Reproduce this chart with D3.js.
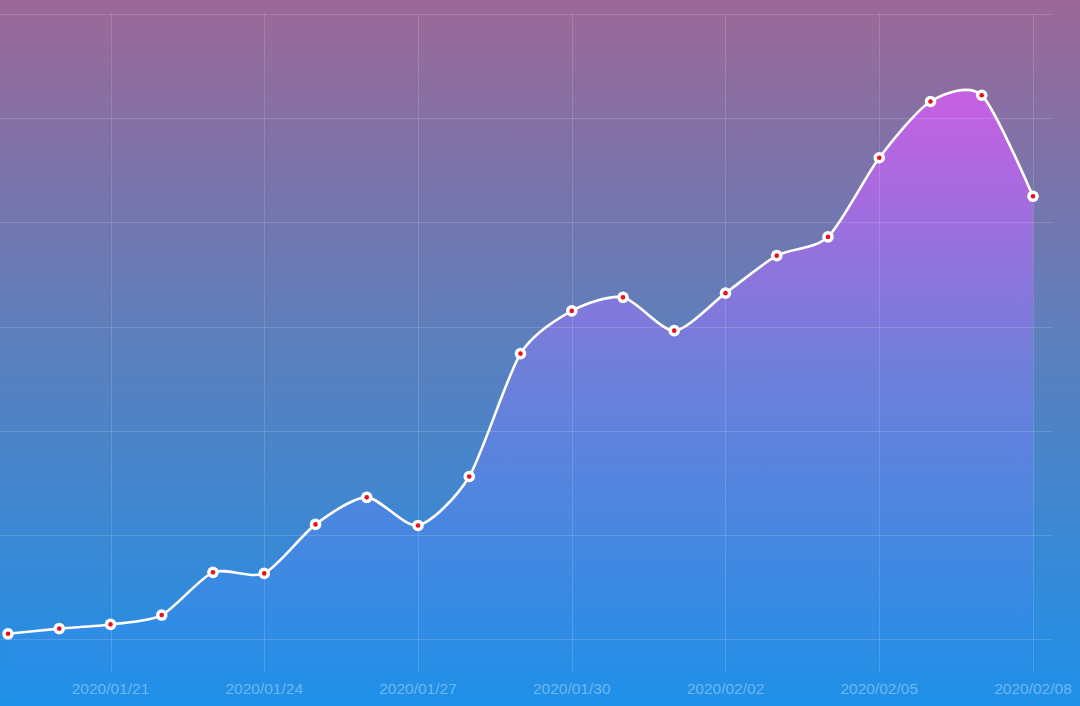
<!DOCTYPE html>
<meta charset="utf-8">
<script src="https://d3js.org/d3.v7.min.js"></script>
<style>
  html, body { margin: 0; padding: 0; overflow: hidden; }
</style>
<div id="chart"></div>
<script>
  const width = 1080, height = 706;

  // daily values, 2020/01/19 .. 2020/02/08
  const dates = ["2020/01/19","2020/01/20","2020/01/21","2020/01/22","2020/01/23","2020/01/24","2020/01/25",
                 "2020/01/26","2020/01/27","2020/01/28","2020/01/29","2020/01/30","2020/01/31","2020/02/01",
                 "2020/02/02","2020/02/03","2020/02/04","2020/02/05","2020/02/06","2020/02/07","2020/02/08"];
  const values = [5, 10, 14, 23, 64, 63, 110, 136, 109, 156, 274, 315, 328, 296, 332, 368, 386, 462, 516, 522, 425];
  const tickLabels = ["2020/01/21","2020/01/24","2020/01/27","2020/01/30","2020/02/02","2020/02/05","2020/02/08"];
  const yTicks = [0, 100, 200, 300, 400, 500, 600];

  const parse = d3.timeParse("%Y/%m/%d");
  const data = dates.map((d, i) => ({ date: parse(d), value: values[i] }));

  const x = d3.scaleTime()
    .domain(d3.extent(data, d => d.date))
    .range([8, 1033]);

  const y = d3.scaleLinear()
    .domain([0, 600])
    .range([639, 14]);

  const svg = d3.select("#chart")
    .append("svg")
      .attr("width", width)
      .attr("height", height);

  const defs = svg.append("defs");

  const bg = defs.append("linearGradient")
    .attr("id", "bg").attr("x1", 0).attr("y1", 0).attr("x2", 0).attr("y2", 1);
  bg.append("stop").attr("offset", "0%").attr("stop-color", "#9c6898");
  bg.append("stop").attr("offset", "50%").attr("stop-color", "#5a80be");
  bg.append("stop").attr("offset", "100%").attr("stop-color", "#1e90e8");

  const areaGrad = defs.append("linearGradient")
    .attr("id", "areaGrad")
    .attr("gradientUnits", "userSpaceOnUse")
    .attr("x1", 0).attr("y1", y(522)).attr("x2", 0).attr("y2", height);
  areaGrad.append("stop").attr("offset", "0%").attr("stop-color", "#c660e2");
  areaGrad.append("stop").attr("offset", "45%").attr("stop-color", "#6e7fda");
  areaGrad.append("stop").attr("offset", "100%").attr("stop-color", "#1e90e8");

  svg.append("rect")
    .attr("width", width).attr("height", height)
    .attr("fill", "url(#bg)");

  const curve = d3.curveCardinal.tension(0.25);

  // area
  svg.append("path")
    .datum(data)
    .attr("fill", "url(#areaGrad)")
    .attr("d", d3.area()
      .x(d => x(d.date))
      .y0(height)
      .y1(d => y(d.value))
      .curve(curve));

  // grid
  const grid = svg.append("g")
    .attr("stroke", "#ffffff")
    .attr("stroke-opacity", 0.15)
    .attr("stroke-width", 1);

  grid.selectAll(".h")
    .data(yTicks)
    .join("line")
      .attr("x1", 0).attr("x2", 1053)
      .attr("y1", d => Math.round(y(d)) + 0.5)
      .attr("y2", d => Math.round(y(d)) + 0.5);

  grid.selectAll(".v")
    .data(tickLabels)
    .join("line")
      .attr("x1", d => Math.round(x(parse(d))) + 0.5)
      .attr("x2", d => Math.round(x(parse(d))) + 0.5)
      .attr("y1", 14).attr("y2", 672);

  // x axis labels
  svg.append("g")
    .selectAll("text")
    .data(tickLabels)
    .join("text")
      .attr("x", d => x(parse(d)))
      .attr("y", 694)
      .attr("text-anchor", "middle")
      .attr("font-family", "Liberation Sans, Arial, sans-serif")
      .attr("font-size", 15.5)
      .attr("fill", "#7cc0f4")
      .attr("fill-opacity", 0.85)
      .text(d => d);

  // line
  svg.append("path")
    .datum(data)
    .attr("fill", "none")
    .attr("stroke", "#ffffff")
    .attr("stroke-width", 2.6)
    .attr("d", d3.line()
      .x(d => x(d.date))
      .y(d => y(d.value))
      .curve(curve));

  // points
  const pts = svg.append("g")
    .selectAll("g")
    .data(data)
    .join("g")
      .attr("transform", d => `translate(${x(d.date)},${y(d.value)})`);
  pts.append("circle").attr("r", 5.8).attr("fill", "#ffffff");
  pts.append("circle").attr("r", 2.3).attr("fill", "#e8101a");
</script>
